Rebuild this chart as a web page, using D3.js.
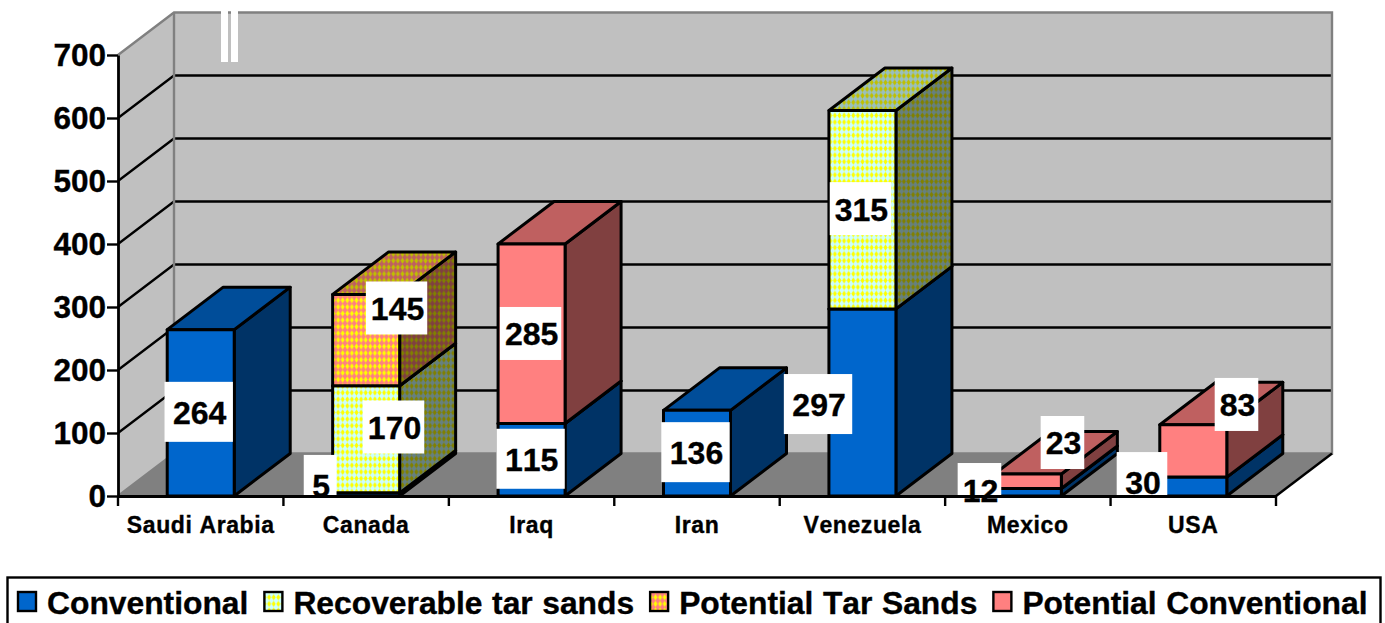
<!DOCTYPE html>
<html>
<head>
<meta charset="utf-8">
<script src="https://cdn.jsdelivr.net/npm/d3@7/dist/d3.min.js"></script>
<style>
  html, body { margin: 0; padding: 0; background: #fff; overflow: hidden; }
  svg { display: block; }
  text { font-family: "Liberation Sans", Arial, sans-serif; font-weight: bold; font-kerning: none; fill: #000; stroke: #000; stroke-width: 0.35px; }
</style>
</head>
<body>
<svg id="chart" width="1385" height="623"></svg>
<script>
// Oil reserves by country, in billions of barrels
const categories = ["Saudi Arabia", "Canada", "Iraq", "Iran", "Venezuela", "Mexico", "USA"];
const seriesNames = ["Conventional", "Recoverable tar sands", "Potential Tar Sands", "Potential Conventional"];
const conventional = [264, 5, 115, 136, 297, 12, 30];
const recoverableTarSands = [0, 170, 0, 0, 315, 0, 0];
const potentialTarSands = [0, 145, 0, 0, 0, 0, 0];
const potentialConventional = [0, 0, 285, 0, 0, 23, 83];
const yTicks = [0, 100, 200, 300, 400, 500, 600, 700];

// Hand-placed data labels: shift from the segment centre, and roomy or snug box
const conventionalNudge = [[-2, -1, 1], [-46, -9.5, 1], [-1, -1, 1], [-1.5, -1, 1], [-44.4, 1.6, 1], [-48.4, -2.7, 0], [-51.3, -4.5, 1]];
const recoverableNudge = [null, [27.4, -12.3, 0], null, null, [-2, -1, 0], null, null];
const potentialTarNudge = [null, [30.4, -32.1, 0], null, null, null, null, null];
const potentialConvNudge = [null, null, [-1, -0.3, 0], null, null, [34.6, -38.7, 0], [43.2, -46.5, 0]];

const seriesValues = [conventional, recoverableTarSands, potentialTarSands, potentialConventional];
const seriesNudges = [conventionalNudge, recoverableNudge, potentialTarNudge, potentialConvNudge];

// Plot box and oblique projection
const left = 118, right = 1276, floorY = 496, topY = 55;
const depthX = 56, depthY = -42.5;
const wallColor = "#c0c0c0", floorColor = "#808080", edgeColor = "#808080";
const barStroke = 3;

const svg = d3.select("#chart");
const defs = svg.append("defs");

const x = d3.scaleBand().domain(categories).range([left, right]).paddingInner(0.595).paddingOuter(0.2975);
const y = d3.scaleLinear().domain([0, 700]).range([floorY, topY]);

// Fill sets per series: front, side and top faces
function diamonds(id, bg, fg) {
  const p = defs.append("pattern").attr("id", id).attr("patternUnits", "userSpaceOnUse")
    .attr("width", 4.6).attr("height", 6.6);
  p.append("rect").attr("width", 4.6).attr("height", 6.6).attr("fill", bg);
  p.append("path").attr("d", "M2.3,0.2 L4.3,3.3 L2.3,6.4 L0.3,3.3 Z").attr("fill", fg);
  return `url(#${id})`;
}
const faces = [
  { front: "#0066cc", side: "#003366", top: "#004d99" },
  { front: diamonds("recF", "#ccffff", "#ffff00"), side: diamonds("recS", "#668080", "#808000"), top: diamonds("recT", "#99bfbf", "#bfbf00") },
  { front: diamonds("tarF", "#ff8080", "#ffff00"), side: diamonds("tarS", "#804040", "#808000"), top: diamonds("tarT", "#bf6060", "#bfbf00") },
  { front: "#ff8080", side: "#804040", top: "#bf6060" }
];

// Walls and floor
const poly = pts => pts.map(p => p.join(",")).join(" ");
const g = svg.append("g");
g.append("polygon")
  .attr("points", poly([[left, topY], [left + depthX, topY + depthY], [left + depthX, floorY + depthY], [left, floorY]]))
  .attr("fill", wallColor);
g.append("rect")
  .attr("x", left + depthX).attr("y", topY + depthY)
  .attr("width", right - left).attr("height", floorY - topY)
  .attr("fill", wallColor);
g.append("polygon")
  .attr("points", poly([[left, floorY], [right, floorY], [right + depthX, floorY + depthY], [left + depthX, floorY + depthY]]))
  .attr("fill", floorColor);

// Gridlines across the side wall and the back wall
const grid = yTicks.filter(v => v > 0 && v < 700);
g.selectAll("path.grid").data(grid).join("path").attr("class", "grid")
  .attr("d", v => `M${left},${y(v)} L${left + depthX},${y(v) + depthY} L${right + depthX},${y(v) + depthY}`)
  .attr("fill", "none").attr("stroke", "#000").attr("stroke-width", 2.3);

// Wall edges
g.append("path")
  .attr("d", `M${left},${topY} L${left + depthX},${topY + depthY} L${right + depthX},${topY + depthY} L${right + depthX},${floorY + depthY}`
    + ` L${left + depthX},${floorY + depthY} M${left + depthX},${topY + depthY} L${left + depthX},${floorY + depthY} M${left},${floorY} L${left + depthX},${floorY + depthY}`)
  .attr("fill", "none").attr("stroke", edgeColor).attr("stroke-width", 2.4);
g.append("path")
  .attr("d", `M${right},${floorY} L${right + depthX},${floorY + depthY}`)
  .attr("fill", "none").attr("stroke", "#000").attr("stroke-width", 2.4);

// Two white slivers near the top of the back wall
g.selectAll("rect.sliver").data([221, 231]).join("rect").attr("class", "sliver")
  .attr("x", d => d).attr("y", 10).attr("width", 7).attr("height", 52).attr("fill", "#fff");

// Stacked 3D bars, left to right and bottom to top
const labels = [];
categories.forEach((cat, i) => {
  const x0 = x(cat), x1 = x0 + x.bandwidth();
  let running = 0;
  seriesValues.forEach((vals, s) => {
    const v = vals[i];
    if (!v) return;
    const yb = y(running), yt = y(running + v);
    const bar = svg.append("g").attr("stroke", "#000").attr("stroke-width", barStroke).attr("stroke-linejoin", "round");
    bar.append("polygon").attr("fill", faces[s].side)
      .attr("points", poly([[x1, yb], [x1 + depthX, yb + depthY], [x1 + depthX, yt + depthY], [x1, yt]]));
    bar.append("polygon").attr("fill", faces[s].top)
      .attr("points", poly([[x0, yt], [x1, yt], [x1 + depthX, yt + depthY], [x0 + depthX, yt + depthY]]));
    bar.append("rect").attr("fill", faces[s].front)
      .attr("x", x0).attr("y", yt).attr("width", x1 - x0).attr("height", yb - yt);
    const n = seriesNudges[s][i];
    labels.push({ v, cx: (x0 + x1) / 2 + n[0], cy: (yb + yt) / 2 + n[1], roomy: n[2] === 1 });
    running += v;
  });
});

// Value labels on white boxes; the front axis line runs between the boxes and their text
const labelSize = 32;
const boxWidth = d => String(d.v).length * labelSize * 0.556 + (d.roomy ? 15 : 8);
const labelLayer = svg.append("g");
labelLayer.selectAll("rect").data(labels).join("rect")
  .attr("width", boxWidth)
  .attr("height", d => d.roomy ? 60 : 53)
  .attr("x", d => d.cx - boxWidth(d) / 2)
  .attr("y", d => d.cy - (d.roomy ? 30 : 26.5))
  .attr("fill", "#fff");

// Axes
const yAxis = svg.append("g").attr("transform", `translate(${left},0)`)
  .call(d3.axisLeft(y).tickValues(yTicks).tickSize(11).tickPadding(1).tickSizeOuter(0));
yAxis.select(".domain").attr("stroke", "#000").attr("stroke-width", 2.8);
yAxis.selectAll(".tick line").attr("stroke", "#000").attr("stroke-width", 2.4);
yAxis.selectAll("text").attr("font-size", 31.5).attr("dy", "0.34em");

const xAxis = svg.append("g").attr("transform", `translate(0,${floorY})`)
  .call(d3.axisBottom(x).tickSize(0).tickPadding(21));
xAxis.select(".domain").attr("stroke", "#000").attr("stroke-width", 2.8);
xAxis.selectAll("text").attr("font-size", 23).attr("letter-spacing", "0.6px").attr("dy", "0.71em");
svg.append("g").selectAll("line").data(d3.range(categories.length + 1)).join("line")
  .attr("x1", i => left + i * x.step()).attr("x2", i => left + i * x.step())
  .attr("y1", floorY).attr("y2", floorY + 10)
  .attr("stroke", "#000").attr("stroke-width", 2.4);

svg.append("g").selectAll("text").data(labels).join("text")
  .attr("x", d => d.cx + 1).attr("y", d => d.cy + 12)
  .attr("text-anchor", "middle").attr("font-size", labelSize).text(d => d.v);

// Legend, laid out as a flowing row
const legend = svg.append("g");
legend.append("rect").attr("x", 7.5).attr("y", 577.5).attr("width", 1373).attr("height", 60)
  .attr("fill", "#fff").attr("stroke", "#000").attr("stroke-width", 2.4);
let cursor = 18;
seriesNames.forEach((name, s) => {
  legend.append("rect").attr("x", cursor).attr("y", 592).attr("width", 18).attr("height", 19)
    .attr("fill", faces[s].front).attr("stroke", "#000").attr("stroke-width", 2.4);
  const t = legend.append("text").attr("x", cursor + 29).attr("y", 614)
    .attr("font-size", 31.8).attr("word-spacing", "0.7px").text(name);
  cursor += 29 + t.node().getComputedTextLength() + 16;
});
</script>
</body>
</html>
